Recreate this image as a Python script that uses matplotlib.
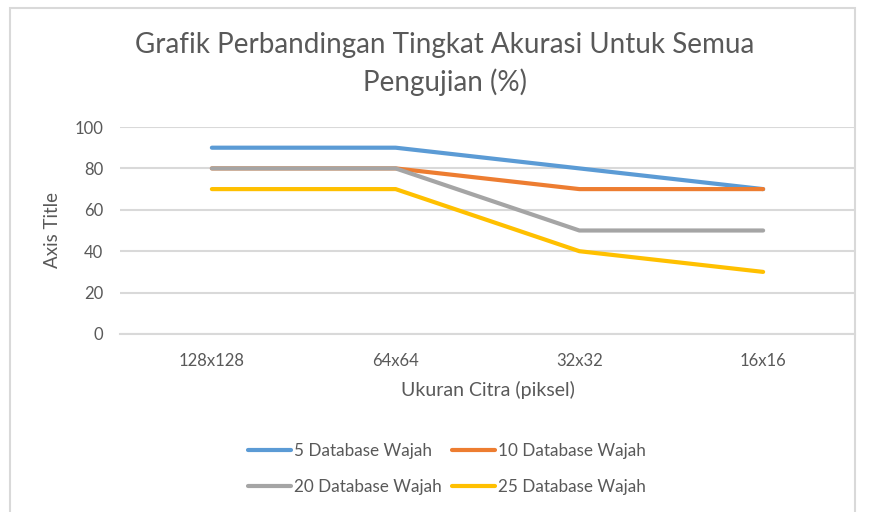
import matplotlib.pyplot as plt
from matplotlib.patches import Rectangle

# Data
categories = ["128x128", "64x64", "32x32", "16x16"]
series_names = ["5 Database Wajah", "10 Database Wajah", "20 Database Wajah", "25 Database Wajah"]
db5 = [90, 90, 80, 70]
db10 = [80, 80, 70, 70]
db20 = [80, 80, 50, 50]
db25 = [70, 70, 40, 30]
y_ticks = [0, 20, 40, 60, 80, 100]

colors = ["#5B9BD5", "#ED7D31", "#A5A5A5", "#FFC000"]
text_color = "#595959"
grid_color = "#D9D9D9"

plt.rcParams['font.family'] = ['Lato', 'DejaVu Sans']

fig = plt.figure(figsize=(8.69, 5.12), dpi=100)

# chart border like the Excel chart area
fig.patches.append(Rectangle((10 / 869, -0.01), 845 / 869, 1 - 8 / 512 + 0.01,
                             transform=fig.transFigure, fill=False,
                             edgecolor=grid_color, linewidth=1.5))

ax = fig.add_axes([120 / 869, 1 - 334 / 512, 735 / 869, 207 / 512])

x = range(len(categories))
lines = []
for vals, name, c in zip([db5, db10, db20, db25], series_names, colors):
    ln, = ax.plot(x, vals, color=c, linewidth=3, label=name, solid_capstyle='round')
    lines.append(ln)

ax.set_xlim(-0.5, len(categories) - 0.5)
ax.set_ylim(0, 100)
ax.set_yticks(y_ticks)
ax.set_xticks(list(x))
ax.set_xticklabels(categories)
ax.yaxis.grid(True, color=grid_color, linewidth=1.5)
ax.set_axisbelow(True)
for s in ["top", "right", "left"]:
    ax.spines[s].set_visible(False)
ax.spines["bottom"].set_color(grid_color)
ax.spines["bottom"].set_linewidth(1.5)
ax.tick_params(axis='both', length=0, labelsize=12, labelcolor=text_color)
ax.tick_params(axis='x', pad=14)
ax.tick_params(axis='y', pad=12)

ax.set_ylabel("Axis Title", fontsize=13.5, color=text_color, labelpad=10)
ax.set_xlabel("Ukuran Citra (piksel)", fontsize=14, color=text_color, labelpad=8)

fig.text(445 / 869, 1 - 64 / 512,
         "Grafik Perbandingan Tingkat Akurasi Untuk Semua\nPengujian (%)",
         ha='center', va='center', fontsize=20, color=text_color, linespacing=1.45)

# row-major legend order: 5, 10 on top row; 20, 25 below
order = [0, 2, 1, 3]
fig.legend([lines[i] for i in order], [series_names[i] for i in order],
           loc='center', bbox_to_anchor=(447 / 869, 1 - 469 / 512), ncol=2,
           frameon=False, fontsize=12.3, handlelength=2.5, handletextpad=0.2,
           columnspacing=0.6, labelspacing=1.15, labelcolor=text_color)

fig.savefig("out.png", dpi=100)
